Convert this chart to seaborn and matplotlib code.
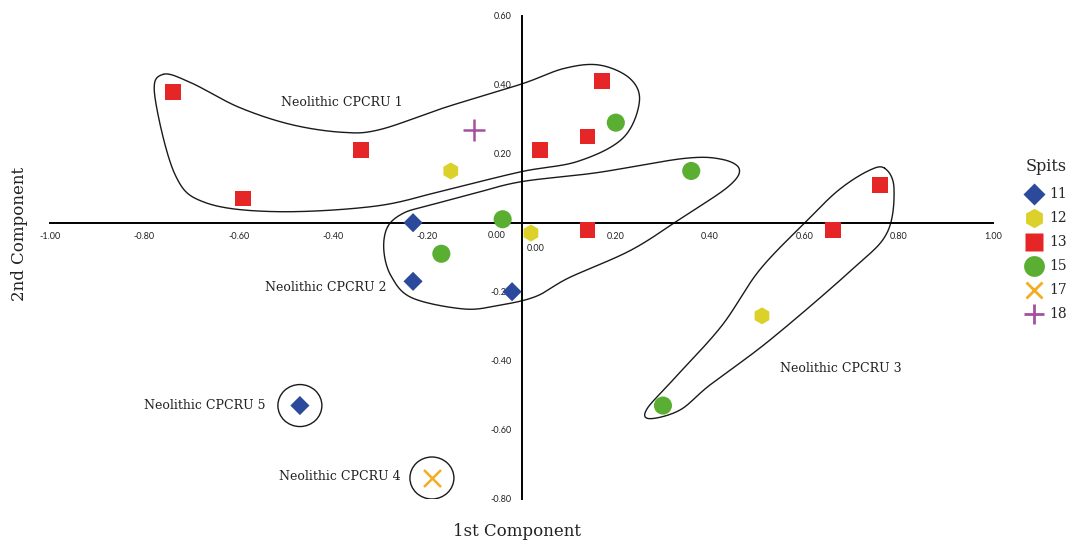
import numpy as np
import pandas as pd
import matplotlib
matplotlib.use("Agg")
import matplotlib.pyplot as plt
from matplotlib.patches import Ellipse
from matplotlib.lines import Line2D
import seaborn as sns

# PCA scores per spit (1st component, 2nd component)
spits = ["11", "12", "13", "15", "17", "18"]
spit_11_x = [-0.23, -0.23, -0.02, -0.47]
spit_11_y = [0.00, -0.17, -0.20, -0.53]
spit_12_x = [-0.15, 0.02, 0.51]
spit_12_y = [0.15, -0.03, -0.27]
spit_13_x = [-0.74, -0.59, -0.34, 0.04, 0.14, 0.17, 0.14, 0.66, 0.76]
spit_13_y = [0.38, 0.07, 0.21, 0.21, 0.25, 0.41, -0.02, -0.02, 0.11]
spit_15_x = [-0.17, -0.04, 0.20, 0.36, 0.30]
spit_15_y = [-0.09, 0.01, 0.29, 0.15, -0.53]
spit_17_x = [-0.19]
spit_17_y = [-0.74]
spit_18_x = [-0.10]
spit_18_y = [0.27]

x_ticks = [-1.0, -0.8, -0.6, -0.4, -0.2, 0.0, 0.2, 0.4, 0.6, 0.8, 1.0]
y_ticks = [-0.8, -0.6, -0.4, -0.2, 0.0, 0.2, 0.4, 0.6]

# Outlines of the CPCRU groupings (data coordinates)
cpcru1_outline = [(-0.760, 0.430), (-0.700, 0.405), (-0.600, 0.335), (-0.490, 0.285),
                  (-0.380, 0.262), (-0.300, 0.270), (-0.160, 0.335), (0.000, 0.402),
                  (0.090, 0.447), (0.165, 0.457), (0.230, 0.418), (0.250, 0.350),
                  (0.215, 0.245), (0.120, 0.178), (0.000, 0.148), (-0.160, 0.095),
                  (-0.310, 0.048), (-0.520, 0.032), (-0.670, 0.058), (-0.735, 0.140),
                  (-0.778, 0.370)]
cpcru2_outline = [(-0.284, -0.012), (-0.250, 0.028), (-0.196, 0.050), (-0.100, 0.085),
                  (0.000, 0.119), (0.160, 0.145), (0.343, 0.186), (0.424, 0.184),
                  (0.462, 0.155), (0.438, 0.104), (0.343, 0.017), (0.233, -0.079),
                  (0.100, -0.160), (0.030, -0.214), (-0.050, -0.240), (-0.123, -0.250),
                  (-0.232, -0.218), (-0.276, -0.156), (-0.292, -0.080)]
cpcru3_outline = [(0.770, 0.158), (0.790, 0.100), (0.775, -0.030), (0.700, -0.137),
                  (0.527, -0.340), (0.400, -0.470), (0.336, -0.543), (0.272, -0.568),
                  (0.266, -0.540), (0.321, -0.456), (0.424, -0.300), (0.505, -0.137),
                  (0.607, 0.008), (0.673, 0.095), (0.735, 0.150)]

group_labels = ["Neolithic CPCRU 1", "Neolithic CPCRU 2", "Neolithic CPCRU 3",
                "Neolithic CPCRU 5", "Neolithic CPCRU 4"]
group_label_x = [-0.382, -0.415, 0.677, -0.671, -0.386]
group_label_y = [0.348, -0.187, -0.424, -0.531, -0.735]

series_x = dict(zip(spits, [spit_11_x, spit_12_x, spit_13_x, spit_15_x, spit_17_x, spit_18_x]))
series_y = dict(zip(spits, [spit_11_y, spit_12_y, spit_13_y, spit_15_y, spit_17_y, spit_18_y]))
df = pd.concat([pd.DataFrame({"pc1": series_x[s], "pc2": series_y[s], "spit": s}) for s in spits],
               ignore_index=True)

colors = {"11": "#2b4a9c", "12": "#dcd12a", "13": "#e52526", "15": "#5aaf32",
          "17": "#f2ad22", "18": "#a4509f"}
markers = {"11": "D", "12": "h", "13": "s", "15": "o", "17": "x", "18": "+"}
sizes = {"11": 95, "12": 150, "13": 130, "15": 170, "17": 150, "18": 240}

sns.set_style("white")
serif = ["DejaVu Serif"]

fig = plt.figure(figsize=(10.7, 5.4), dpi=100)
ax = fig.add_axes([50 / 1070, 41.3 / 540, 943 / 1070, 483 / 540])


def closed_curve(pts, n=40):
    p = np.asarray(pts, float)
    m = len(p)
    t = np.linspace(0, 1, n, endpoint=False)[:, None]
    segs = []
    for i in range(m):
        p0, p1, p2, p3 = p[(i - 1) % m], p[i], p[(i + 1) % m], p[(i + 2) % m]
        segs.append(0.5 * (2 * p1 + (-p0 + p2) * t + (2 * p0 - 5 * p1 + 4 * p2 - p3) * t ** 2
                           + (-p0 + 3 * p1 - 3 * p2 + p3) * t ** 3))
    segs.append(p[:1])
    return np.vstack(segs)


for outline in (cpcru1_outline, cpcru2_outline, cpcru3_outline):
    c = closed_curve(outline)
    ax.plot(c[:, 0], c[:, 1], color="#1a1a1a", lw=1.0, zorder=2)

# single-sample groups are ringed
for cx, cy in ((spit_11_x[3], spit_11_y[3]), (spit_17_x[0], spit_17_y[0])):
    ax.add_patch(Ellipse((cx, cy), 44 / 471.5, 42 / 345, fill=False,
                         edgecolor="#1a1a1a", lw=1.0, zorder=2))

for sp in spits:
    sub = df[df["spit"] == sp]
    kw = dict(marker=markers[sp], s=sizes[sp], color=colors[sp], ax=ax, zorder=3, legend=False)
    if markers[sp] in ("x", "+"):
        kw["linewidth"] = 1.8
    else:
        kw["edgecolor"] = "none"
    sns.scatterplot(data=sub, x="pc1", y="pc2", **kw)

for txt, tx, ty in zip(group_labels, group_label_x, group_label_y):
    ax.text(tx, ty, txt, ha="center", va="center", fontsize=9, family=serif, color="#222222")

ax.set_xlim(-1.0, 1.0)
ax.set_ylim(-0.8, 0.6)
for side in ("top", "right"):
    ax.spines[side].set_visible(False)
ax.spines["left"].set_position(("data", 0))
ax.spines["bottom"].set_position(("data", 0))
for side in ("left", "bottom"):
    ax.spines[side].set_linewidth(1.4)
    ax.spines[side].set_color("black")

ax.set_xticks(x_ticks)
ax.set_yticks(y_ticks)
ax.set_xticklabels(["" if v == 0 else f"{v:.2f}" for v in x_ticks])
ax.set_yticklabels(["" if v == 0 else f"{v:.2f}" for v in y_ticks])
ax.tick_params(axis="both", direction="out", length=4, width=1.2, color="black",
               labelsize=6.5, pad=3, labelcolor="#222222")
for lab in ax.get_xticklabels() + ax.get_yticklabels():
    lab.set_family("Lato")
ax.text(-0.053, -0.036, "0.00", ha="center", va="center", fontsize=6.5, family="Lato", color="#222222")
ax.text(0.030, -0.076, "0.00", ha="center", va="center", fontsize=6.5, family="Lato", color="#222222")
ax.set_xlabel("")
ax.set_ylabel("")

fig.text(517 / 1070, 1 - 532 / 540, "1st Component", ha="center", va="center",
         fontsize=12, family=serif, color="#222222")
fig.text(20 / 1070, 1 - 234 / 540, "2nd Component", ha="center", va="center",
         rotation=90, fontsize=12, family=serif, color="#222222")

handles = []
for sp in spits:
    if markers[sp] in ("x", "+"):
        h = Line2D([], [], ls="none", marker=markers[sp], color=colors[sp],
                   markersize=15 if sp == "18" else 12, markeredgewidth=2.0)
    else:
        h = Line2D([], [], ls="none", marker=markers[sp], color=colors[sp],
                   markeredgecolor="none",
                   markersize={"11": 11, "12": 14, "13": 13, "15": 15}[sp])
    handles.append(h)
leg = fig.legend(handles, spits, title="Spits", loc="upper left",
                 bbox_to_anchor=(1026 / 1070, 1 - 158 / 540), frameon=False,
                 prop={"family": serif, "size": 10}, handlelength=1.1,
                 handletextpad=0.55, labelspacing=0.72, borderaxespad=0, borderpad=0)
leg.get_title().set_fontfamily(serif)
leg.get_title().set_fontsize(11.5)
leg._legend_box.align = "left"
leg._legend_box.sep = 9

fig.savefig("out.png", dpi=100, facecolor="white")
